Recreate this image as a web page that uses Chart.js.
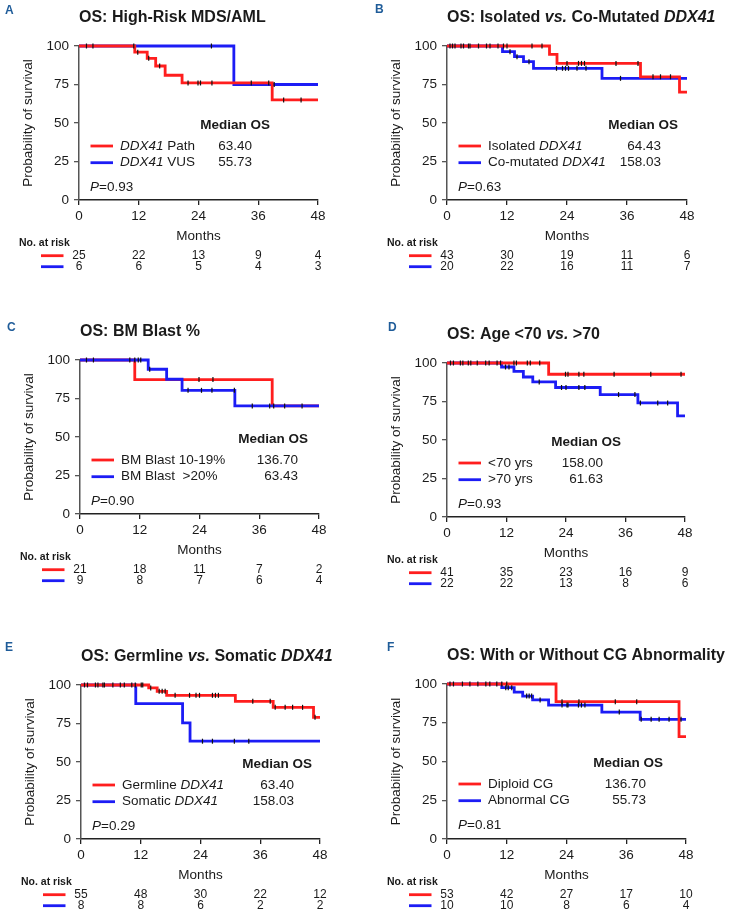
<!DOCTYPE html>
<html>
<head>
<meta charset="utf-8">
<script src="https://cdn.jsdelivr.net/npm/chart.js@4.4.1/dist/chart.umd.min.js"></script>
<style>
  body { margin: 0; background: #fff; width: 740px; height: 918px; position: relative; overflow: hidden; }
  canvas { position: absolute; }
</style>
</head>
<body>
<canvas id="pA" width="370" height="300" style="left:0;top:0"></canvas>
<canvas id="pB" width="370" height="300" style="left:370px;top:0"></canvas>
<canvas id="pC" width="370" height="300" style="left:0;top:300px"></canvas>
<canvas id="pD" width="370" height="300" style="left:370px;top:300px"></canvas>
<canvas id="pE" width="370" height="318" style="left:0;top:600px"></canvas>
<canvas id="pF" width="370" height="318" style="left:370px;top:600px"></canvas>
<script>
const monthTicks = [0, 12, 24, 36, 48];
const survTicks = [0, 25, 50, 75, 100];

// A: High-risk MDS/AML  [month, survival %]
const aPath = [[0,100],[11.2,96],[13.7,92],[15.4,87],[17.3,81],[20.7,76],[38.8,65],[48,65]];
const aPathCens = [1.5,2.8,11.0,11.8,14,16.2,21.9,23.9,24.4,26.7,34.6,38.1,41.1,44.6];
const aVus = [[0,100],[31.1,75],[48,75]];
const aVusCens = [26.6,39.2];
const aPathRisk = [25,22,13,9,4];
const aVusRisk = [6,6,5,4,3];

// B: isolated vs co-mutated
const bIso = [[0,100],[20.5,94.6],[22,88.7],[38.7,80],[46.5,70],[48,70]];
const bIsoCens = [11.3,12,17,19,24,26.3,26.9,27.5,33.8,38.2,41.2,42.7,44.7];
const bCo = [[0,100],[11.1,96.3],[13.5,93.1],[15.3,89.8],[17.3,85.5],[31,79],[48,79]];
const bCoCens = [0.6,1.1,1.6,2.8,3.3,4.3,4.6,6.3,7.9,8.6,10.2,12.6,14,16.4,21.9,23.1,23.7,24.3,26,27.8,34.7];
const bIsoRisk = [43,30,19,11,6];
const bCoRisk = [20,22,16,11,7];

// C: BM blast %
const cLow = [[0,100],[11,87.3],[38.6,70.2],[48,70.2]];
const cLowCens = [1.3,2.7,23.9,26.7,38.9];
const cHigh = [[0,100],[13.7,94],[17.4,87.5],[20.5,80.3],[31.1,70.2],[48,70.2]];
const cHighCens = [10,11,11.7,12.2,14,21.7,24.4,26.5,31,34.6,38.1,41.1,44.6];
const cLowRisk = [21,18,11,7,2];
const cHighRisk = [9,8,7,6,4];

// D: age
const dYoung = [[0,100],[20.5,92.7],[48,92.7]];
const dYoungCens = [13.5,14,16.2,16.8,18.7,23.9,24.4,26.6,27.6,33.7,41.1,47.2];
const dOld = [[0,100],[11,97.4],[13.5,94.6],[15.4,90.9],[17.3,87.7],[21.9,84.1],[30.9,79.5],[38.5,74.1],[46.5,65.7],[48,65.7]];
const dOldCens = [0.7,1.3,2.7,3.2,4.3,4.8,6.1,7.8,8.5,10.1,10.8,11.8,12.5,18.6,23.1,24,26.6,27.8,34.6,37.9,39,42.5,44.5];
const dYoungRisk = [41,35,23,16,9];
const dOldRisk = [22,22,13,8,6];

// E: germline vs somatic
const eGerm = [[0,100],[13.6,98.1],[15.3,95.9],[17.2,93.3],[31,89.4],[38.6,85.5],[46.7,79],[48,79]];
const eGermCens = [0.7,1.3,2.9,3.4,4.4,4.7,6.4,7.9,8.7,10.2,10.9,12.1,12.4,14,15.7,16.3,16.9,18.9,21.8,23.1,23.8,26.4,27,27.6,34.5,38,39,41,42.5,44.5,47];
const eSom = [[0,100],[11,87.9],[20.4,75.4],[21.9,63.5],[48,63.5]];
const eSomCens = [24.4,26.4,30.8,33.7];
const eGermRisk = [55,48,30,22,12];
const eSomRisk = [8,8,6,2,2];

// F: cytogenetics
const fDip = [[0,100],[21.9,88.6],[46.6,66],[48,66]];
const fDipCens = [11,12,23.1,26.5,33.8,38.1];
const fAbn = [[0,100],[11,97.6],[13.5,94.8],[15.2,92.2],[17.2,89.7],[20.4,86.4],[31.1,81.9],[38.8,77.2],[48,77.2]];
const fAbnCens = [0.6,1.3,3.1,4.6,6.2,7.8,8.6,10,11.8,12.3,13,16,16.5,17,18.7,23.1,24.1,24.3,26.4,27,27.7,34.6,39,41,42.6,44.6,47];
const fDipRisk = [53,42,27,17,10];
const fAbnRisk = [10,10,8,6,4];

const FAM = '"Liberation Sans", Arial, sans-serif';
const RED = '#ff1e1e';
const BLUE = '#1c1cf5';
const INK = '#1a1a1a';

const panels = [
  { id: 'pA', letter: 'A', letterPos: [5, 11], area: [79, 46, 318, 200],
    title: [['OS: High-Risk MDS/AML', 0]], p: '0.93', medX: 191, valX: 173, blueTop: false,
    red: { steps: aPath, cens: aPathCens, risk: aPathRisk, name: [['DDX41', 1], [' Path', 0]], median: '63.40' },
    blue: { steps: aVus, cens: aVusCens, risk: aVusRisk, name: [['DDX41', 1], [' VUS', 0]], median: '55.73' } },
  { id: 'pB', letter: 'B', letterPos: [5, 10], area: [77, 46, 317, 200],
    title: [['OS: Isolated ', 0], ['vs.', 1], [' Co-Mutated ', 0], ['DDX41', 1]], p: '0.63', medX: 231, valX: 214, blueTop: false,
    red: { steps: bIso, cens: bIsoCens, risk: bIsoRisk, name: [['Isolated ', 0], ['DDX41', 1]], median: '64.43' },
    blue: { steps: bCo, cens: bCoCens, risk: bCoRisk, name: [['Co-mutated ', 0], ['DDX41', 1]], median: '158.03' } },
  { id: 'pC', letter: 'C', letterPos: [7, 28], area: [80, 60, 319, 214],
    title: [['OS: BM Blast %', 0]], p: '0.90', medX: 228, valX: 218, blueTop: true,
    red: { steps: cLow, cens: cLowCens, risk: cLowRisk, name: [['BM Blast 10-19%', 0]], median: '136.70' },
    blue: { steps: cHigh, cens: cHighCens, risk: cHighRisk, name: [['BM Blast  >20%', 0]], median: '63.43' } },
  { id: 'pD', letter: 'D', letterPos: [18, 28], area: [77, 63, 315, 217],
    title: [['OS: Age <70 ', 0], ['vs.', 1], [' >70', 0]], p: '0.93', medX: 174, valX: 156, blueTop: false,
    red: { steps: dYoung, cens: dYoungCens, risk: dYoungRisk, name: [['<70 yrs', 0]], median: '158.00' },
    blue: { steps: dOld, cens: dOldCens, risk: dOldRisk, name: [['>70 yrs', 0]], median: '61.63' } },
  { id: 'pE', letter: 'E', letterPos: [5, 48], area: [81, 85, 320, 239],
    title: [['OS: Germline ', 0], ['vs.', 1], [' Somatic ', 0], ['DDX41', 1]], p: '0.29', medX: 231, valX: 213, blueTop: false,
    red: { steps: eGerm, cens: eGermCens, risk: eGermRisk, name: [['Germline ', 0], ['DDX41', 1]], median: '63.40' },
    blue: { steps: eSom, cens: eSomCens, risk: eSomRisk, name: [['Somatic ', 0], ['DDX41', 1]], median: '158.03' } },
  { id: 'pF', letter: 'F', letterPos: [17, 48], area: [77, 84, 316, 239],
    title: [['OS: With or Without CG Abnormality', 0]], p: '0.81', medX: 216, valX: 199, blueTop: false,
    red: { steps: fDip, cens: fDipCens, risk: fDipRisk, name: [['Diploid CG', 0]], median: '136.70' },
    blue: { steps: fAbn, cens: fAbnCens, risk: fAbnRisk, name: [['Abnormal CG', 0]], median: '55.73' } }
];

function survAt(steps, t) {
  let v = steps[0][1];
  for (const s of steps) { if (s[0] <= t) v = s[1]; }
  return v;
}

function richText(ctx, segs, x, y, size, bold, align) {
  const font = it => (it ? 'italic ' : '') + (bold ? 'bold ' : '') + size + 'px ' + FAM;
  let w = 0;
  segs.forEach(s => { ctx.font = font(s[1]); w += ctx.measureText(s[0]).width; });
  let cx = align === 'right' ? x - w : align === 'center' ? x - w / 2 : x;
  ctx.textAlign = 'left';
  segs.forEach(s => { ctx.font = font(s[1]); ctx.fillText(s[0], cx, y); cx += ctx.measureText(s[0]).width; });
}

const panelText = {
  id: 'panelText',
  afterDraw(chart, args, o) {
    const ctx = chart.ctx, a = chart.chartArea, xs = chart.scales.x;
    const L = a.left, T = a.top, R = a.right, B = a.bottom;
    ctx.save();
    ctx.textBaseline = 'middle';

    ctx.fillStyle = '#1f5c99';
    ctx.font = 'bold 12px ' + FAM;
    ctx.fillText(o.letter, o.letterPos[0], o.letterPos[1]);

    ctx.fillStyle = INK;
    richText(ctx, o.title, L, T - 28.5, 16, true, 'left');

    // axis titles
    ctx.save();
    ctx.translate(L - 51, (T + B) / 2);
    ctx.rotate(-Math.PI / 2);
    ctx.font = '13.5px ' + FAM;
    ctx.textAlign = 'center';
    ctx.fillText('Probability of survival', 0, 0);
    ctx.restore();
    ctx.font = '13.5px ' + FAM;
    ctx.textAlign = 'center';
    ctx.fillText('Months', (L + R) / 2, B + 36.5);

    // median OS legend
    richText(ctx, [['Median OS', 0]], L + o.medX, T + 79, 13.5, true, 'right');
    [[o.red, RED, T + 100], [o.blue, BLUE, T + 116.7]].forEach(([s, col, y]) => {
      ctx.strokeStyle = col; ctx.lineWidth = 2.8;
      ctx.beginPath(); ctx.moveTo(L + 11.5, y); ctx.lineTo(L + 34, y); ctx.stroke();
      richText(ctx, s.name, L + 41, y, 13.5, false, 'left');
      richText(ctx, [[s.median, 0]], L + o.valX, y, 13.5, false, 'right');
    });
    richText(ctx, [['P', 1], ['=' + o.p, 0]], L + 11, T + 141.7, 13.5, false, 'left');

    // numbers at risk
    richText(ctx, [['No. at risk', 0]], L - 60, B + 43.5, 10.5, true, 'left');
    [[o.red, RED, B + 55.7], [o.blue, BLUE, B + 66.7]].forEach(([s, col, y]) => {
      ctx.strokeStyle = col; ctx.lineWidth = 2.8;
      ctx.beginPath(); ctx.moveTo(L - 38, y); ctx.lineTo(L - 15.5, y); ctx.stroke();
      ctx.font = '12px ' + FAM;
      ctx.textAlign = 'center';
      s.risk.forEach((n, i) => ctx.fillText(String(n), xs.getPixelForValue(monthTicks[i]), y));
    });
    ctx.restore();
  }
};

function curve(s, col, order) {
  return { type: 'line', data: s.steps.map(p => ({ x: p[0], y: p[1] })), stepped: true,
    borderColor: col, borderWidth: 2.8, pointRadius: 0, fill: false, clip: false, order: order };
}
function censor(s) {
  return { type: 'scatter', data: s.cens.map(t => ({ x: t, y: survAt(s.steps, t) })),
    pointStyle: 'line', rotation: 90, radius: 2.5, borderColor: '#111', borderWidth: 1.2,
    showLine: false, clip: false, order: -1 };
}

panels.forEach(p => {
  const canvas = document.getElementById(p.id);
  const [L, T, R, B] = p.area;
  new Chart(canvas, {
    type: 'line',
    data: {
      datasets: [
        curve(p.red, RED, p.blueTop ? 2 : 1),
        curve(p.blue, BLUE, p.blueTop ? 1 : 2),
        censor(p.red),
        censor(p.blue)
      ]
    },
    options: {
      responsive: false,
      animation: false,
      events: [],
      layout: { padding: { left: 0, top: T, right: canvas.width - R, bottom: canvas.height - B - 30 } },
      plugins: { legend: { display: false }, tooltip: { enabled: false }, panelText: p },
      scales: {
        x: {
          type: 'linear', min: 0, max: 48,
          afterBuildTicks: s => { s.ticks = monthTicks.map(v => ({ value: v })); },
          afterFit: s => { s.height = 30; },
          grid: { drawOnChartArea: false, drawTicks: true, tickLength: 5, color: '#222', lineWidth: 1.3 },
          border: { color: '#222', width: 1.5 },
          ticks: { padding: 3, color: INK, font: { family: FAM, size: 13.5 }, maxRotation: 0 }
        },
        y: {
          min: 0, max: 100,
          afterBuildTicks: s => { s.ticks = survTicks.map(v => ({ value: v })); },
          afterFit: s => { s.width = L; },
          grid: { drawOnChartArea: false, drawTicks: true, tickLength: 5, color: '#555', lineWidth: 1.3 },
          border: { color: '#555', width: 1.5 },
          ticks: { padding: 5, color: INK, font: { family: FAM, size: 13.5 } }
        }
      }
    },
    plugins: [panelText]
  });
});
</script>
</body>
</html>
